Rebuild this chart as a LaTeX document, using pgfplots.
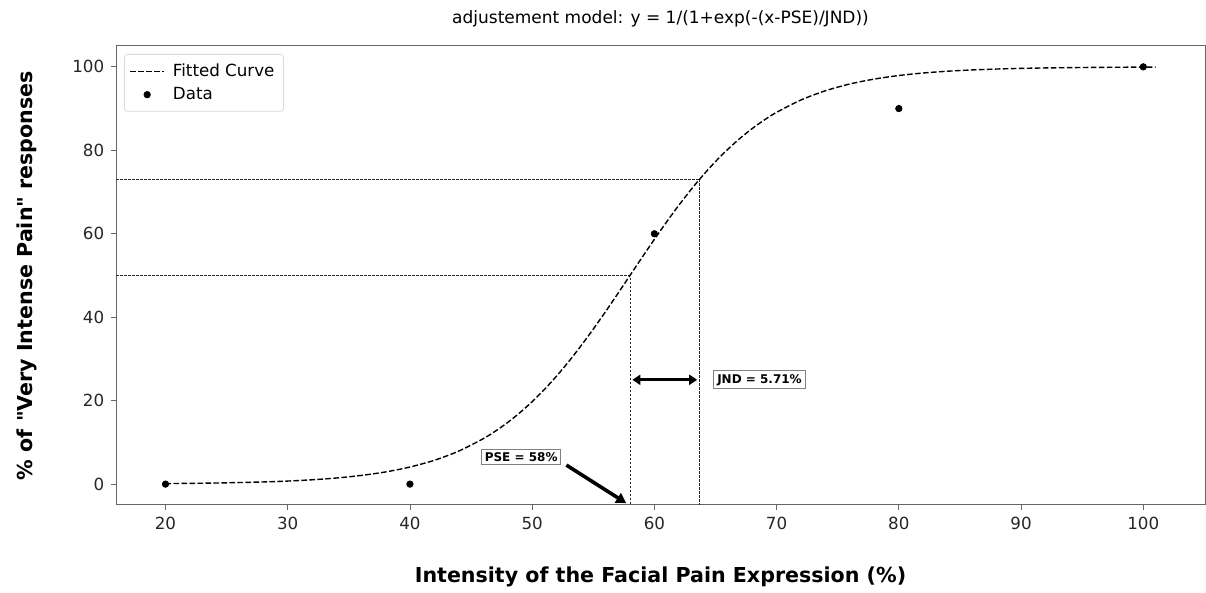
\documentclass[border=0pt]{standalone}
\usepackage{fontspec}
\setmainfont{DejaVu Sans}[Ligatures=TeXOff]
\usepackage{pgfplots}
\pgfplotsset{compat=1.18}
\usetikzlibrary{arrows.meta}

\begin{document}
\begin{tikzpicture}
\path[use as bounding box] (0,0) rectangle (603pt,296.5pt);
\begin{axis}[
  at={(58pt,44pt)}, anchor=south west,
  scale only axis, width=544.5pt, height=229.5pt,
  xmin=15.95, xmax=105.05, ymin=-5, ymax=105,
  xtick={20,30,...,100}, ytick={0,20,...,100},
  axis line style={draw=black!60, line width=0.5pt},
  tick style={draw=black!60, line width=0.4pt},
  tick align=outside, major tick length=2.4pt,
  xtick pos=left, ytick pos=left,
  ticklabel style={font=\fontsize{8.35}{10}\selectfont, text=black!85},
  /pgf/number format/assume math mode=true,
  title={adjustement model: y = 1/(1+exp(-(x-PSE)/JND))},
  title style={font=\fontsize{8.5}{10}\selectfont, at={(axis description cs:0.5,1.033)}, anchor=center},
  xlabel={Intensity of the Facial Pain Expression (\%)},
  xlabel style={font=\bfseries\fontsize{10.3}{12}\selectfont, at={(axis description cs:0.5,-0.157)}, anchor=center},
  ylabel={\% of "Very Intense Pain" responses},
  ylabel style={font=\bfseries\fontsize{10.3}{12}\selectfont, at={(axis description cs:-0.082,0.5)}, anchor=center},
  legend style={at={(axis description cs:0,1)}, anchor=north west, xshift=4pt, yshift=-4pt,
    draw=black!15, rounded corners=1.5pt, font=\fontsize{8.35}{10}\selectfont, inner sep=2.5pt,
    row sep=0pt, column sep=2pt},
  legend cell align=left,
]
\draw[black!85, line width=0.4pt, dash pattern=on 1.3pt off 0.7pt]
  (axis cs:15.95,50) -- (axis cs:58,50) -- (axis cs:58,-5);
\draw[black!85, line width=0.4pt, dash pattern=on 1.3pt off 0.7pt]
  (axis cs:15.95,73.1) -- (axis cs:63.71,73.1) -- (axis cs:63.71,-5);

\addplot[black, line width=0.7pt, dash pattern=on 2.8pt off 1.2pt, smooth] coordinates {
 (20,0.1285) (24,0.2587) (28,0.5201) (30,0.7364) (32,1.042) (34,1.473) (36,2.078)
 (38,2.924) (40,4.100) (42,5.721) (44,7.930) (46,10.895) (47,12.72) (48,14.788)
 (49,17.14) (50,19.767) (51,22.69) (52,25.91) (53,29.41) (54,33.17) (55,37.16)
 (56,41.33) (57,45.63) (58,50) (59,54.37) (60,58.67) (61,62.84) (62,66.83)
 (63,70.59) (64,74.09) (65,77.31) (66,80.23) (67,82.86) (68,85.21) (69,87.28)
 (70,89.105) (72,92.07) (74,94.28) (76,95.90) (78,97.076) (80,97.922) (82,98.527)
 (84,98.958) (86,99.264) (88,99.480) (90,99.633) (92,99.741) (95,99.847)
 (98,99.909) (101,99.946)
};
\addlegendentry{Fitted Curve}
\addplot[only marks, mark=*, mark size=1.6pt, black] coordinates {
 (20,0) (40,0) (60,60) (80,90) (100,100)
};
\addlegendentry{Data}

\draw[{Triangle[length=4pt,width=5pt]}-{Triangle[length=4pt,width=5pt]}, line width=1.4pt]
  (axis cs:58.2,25) -- (axis cs:63.5,25);
\node[draw=black!50, fill=white, line width=0.5pt, inner sep=1.7pt,
  font=\bfseries\fontsize{6}{7}\selectfont] at (axis cs:68.6,25) {JND = 5.71\%};
\draw[-{Triangle[length=5pt,width=5.5pt]}, line width=1.8pt]
  (axis cs:52.8,4.56) -- (axis cs:57.7,-4.56);
\node[draw=black!50, fill=white, line width=0.5pt, inner sep=1.7pt,
  font=\bfseries\fontsize{6}{7}\selectfont] at (axis cs:49.1,6.5) {PSE = 58\%};
\end{axis}
\end{tikzpicture}
\end{document}
